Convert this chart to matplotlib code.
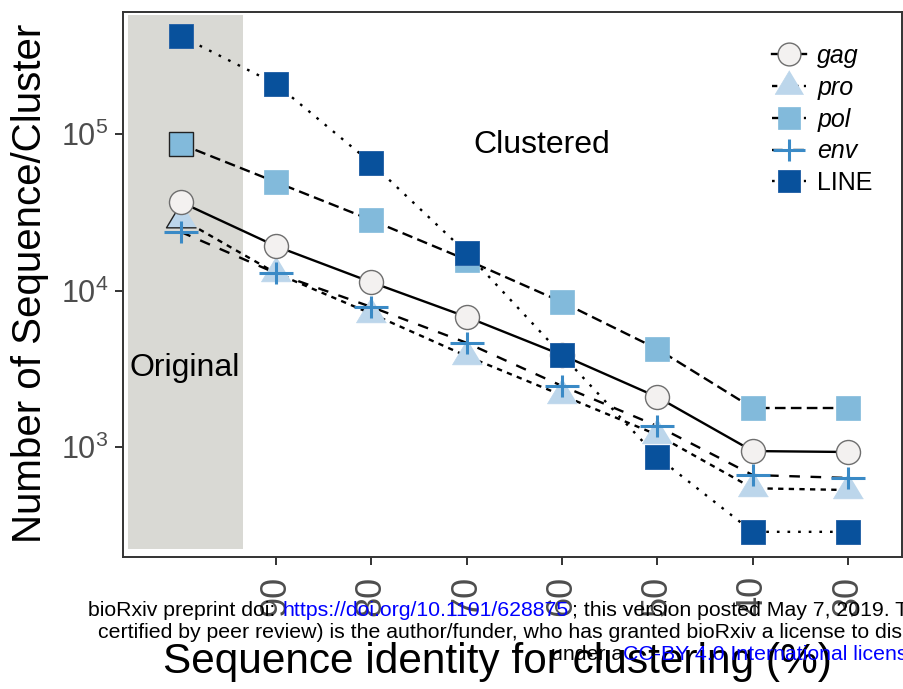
import matplotlib
matplotlib.use("Agg")
import matplotlib.pyplot as plt
from matplotlib.path import Path
from matplotlib.lines import Line2D

plt.rcParams['font.family'] = ['Liberation Sans', 'DejaVu Sans']
plt.rcParams['mathtext.default'] = 'regular'

# cluster counts per gene / element, first column is the unclustered set
positions = [1, 2, 3, 4, 5, 6, 7, 8]
identity_labels = ["", "90", "80", "70", "60", "50", "40", "30"]

gag = [36800, 19200, 11300, 6780, 3870, 2085, 942, 929]
pro = [28800, 12900, 7110, 3810, 2140, 1195, 545, 531]
pol = [86300, 49300, 28200, 15700, 8440, 4230, 1775, 1775]
env = [23700, 12900, 7850, 4630, 2455, 1360, 662, 634]
line_el = [423000, 208700, 65300, 17400, 3870, 863, 287, 287]

series_names = ["gag", "pro", "pol", "env", "LINE"]

# marker shapes
tri = [(0, 1.11), (-1, -0.555), (1, -0.555)]
plus = Path([(-1.5, 0), (1.5, 0), (0, -1), (0, 1)],
            [Path.MOVETO, Path.LINETO, Path.MOVETO, Path.LINETO])

LW = 1.7
styles = {
    "gag": dict(dashes=None, marker='o', ms=17.3, mfc='#F3F1F0', mec='#6E6E6E', mew=1.0, z=3.2),
    "pro": dict(dashes=(2.25, 2.25), marker=tri, ms=24, mfc='#BCD6EB', mec='#BCD6EB', mew=0.5, z=3.0),
    "pol": dict(dashes=(4.5, 2.25), marker='s', ms=17.3, mfc='#82BADB', mec='#82BADB', mew=0.5, z=3.1),
    "env": dict(dashes=(4.5, 4.5), marker=plus, ms=24.5, mfc='none', mec='#3A8AC6', mew=2.2, z=3.3),
    "LINE": dict(dashes=(1.125, 3.375), marker='s', ms=17.3, mfc='#08519C', mec='#2A65A8', mew=0.7, z=3.4),
}
data = {"gag": gag, "pro": pro, "pol": pol, "env": env, "LINE": line_el}

fig = plt.figure(figsize=(9.04, 6.89), dpi=100)
ax = fig.add_axes([123 / 904, 1 - 557 / 689, 779 / 904, 545 / 689])
ax.set_yscale('log')
ax.set_xlim(0.395, 8.566)
ax.set_ylim(10 ** 2.297, 10 ** 5.78)

# shaded block behind the unclustered column
ax.axvspan(0.447, 1.654, ymin=0.0147, ymax=0.9945, color='#D9D9D4', lw=0, zorder=0)

handles = []
for name in series_names:
    st = styles[name]
    vals = data[name]
    ln, = ax.plot(positions, vals, color='black', lw=LW, zorder=2, solid_capstyle='butt')
    if st['dashes'] is not None:
        ln.set_dashes(st['dashes'])
    ax.plot(positions, vals, linestyle='none', marker=st['marker'], ms=st['ms'],
            mfc=st['mfc'], mec=st['mec'], mew=st['mew'], zorder=st['z'])
    if name in ("pro", "pol"):
        # outlined point for the original set
        ax.plot(positions[:1], vals[:1], linestyle='none', marker=st['marker'], ms=st['ms'],
                mfc=st['mfc'], mec='#222222', mew=1.0, zorder=st['z'] + 0.01)
    h = Line2D([], [], color='black', lw=LW, marker=st['marker'], ms=st['ms'] * 0.95,
               mfc=st['mfc'], mec=st['mec'], mew=st['mew'])
    if st['dashes'] is not None:
        h.set_dashes(st['dashes'])
    handles.append(h)

ax.text(1.04, 3200, "Original", fontsize=23, ha='center', va='center')
ax.text(4.79, 85000, "Clustered", fontsize=23, ha='center', va='center')

leg = ax.legend(handles, series_names, loc='upper left', bbox_to_anchor=(772 / 904, 1 - 44 / 689),
                bbox_transform=fig.transFigure, frameon=False, fontsize=18,
                handlelength=1.36, handletextpad=0.45, labelspacing=0.31,
                borderpad=0, borderaxespad=0)
for t in leg.get_texts()[:4]:
    t.set_style('italic')

# axes styling
for sp in ax.spines.values():
    sp.set_color('#333333')
    sp.set_linewidth(1.4)
ax.minorticks_off()
ax.set_yticks([1e3, 1e4, 1e5])
ax.set_yticklabels([r'$10^3$', r'$10^4$', r'$10^5$'])
ax.set_xticks(positions[1:])
ax.set_xticklabels(identity_labels[1:], rotation=90)
ax.tick_params(axis='both', colors='#333333', labelcolor='#4D4D4D', length=5.8, width=1.4)
ax.tick_params(axis='y', pad=5, labelsize=22)
ax.tick_params(axis='x', pad=8, labelsize=26)

fig.text(30 / 904, 1 - 283 / 689, "Number of Sequence/Cluster", rotation=90,
         fontsize=29, ha='center', va='center')
fig.text(497 / 904, 1 - 662 / 689, "Sequence identity for clustering (%)",
         fontsize=30.5, ha='center', va='center')

# preprint notice printed over the lower margin, cut at the page edge
wm = dict(fontsize=15.3, va='center', ha='left')
fig.text(88 / 904, 1 - 610 / 689, "bioRxiv preprint doi: ", color='black', **wm)
fig.text(283 / 904, 1 - 610 / 689, "https://doi.org/10.1101/628875", color='#0000FF', **wm)
fig.text(572 / 904, 1 - 610 / 689, "; this version posted May 7, 2019. T", color='black', **wm)
fig.text(98 / 904, 1 - 632 / 689,
         "certified by peer review) is the author/funder, who has granted bioRxiv a license to dis",
         color='black', **wm)
fig.text(551 / 904, 1 - 654 / 689, "under a", color='black', **wm)
fig.text(623 / 904, 1 - 654 / 689, "CC-BY 4.0 International licens", color='#0000FF', **wm)

fig.savefig("out.png", dpi=100)
